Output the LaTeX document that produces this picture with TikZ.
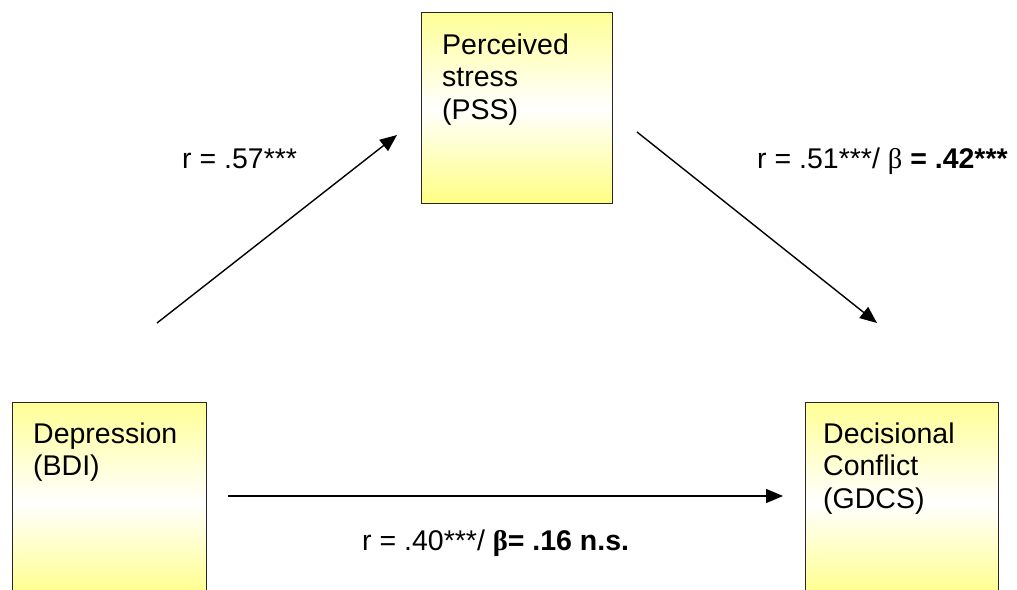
\documentclass[tikz,border=0pt]{standalone}
\usepackage{fontspec}
\setmainfont{Liberation Sans}
\newfontfamily\greekfont{Liberation Serif}
\usetikzlibrary{arrows.meta}
\definecolor{boxtop}{RGB}{255,255,150}
\definecolor{boxbot}{RGB}{255,255,130}
\begin{document}
\begin{tikzpicture}[x=1pt,y=-1pt,
  box/.style={draw=black!85, line width=1.2pt, top color=boxtop, bottom color=boxbot, middle color=white, inner sep=0pt, anchor=north west},
  boxtext/.style={font=\fontsize{28.5}{32.8}\selectfont, align=left, inner sep=0pt, anchor=base west},
  lbl/.style={font=\fontsize{28.5}{32.8}\selectfont, inner sep=0pt, anchor=base west},
  arr/.style={line width=1.4pt, -{Triangle[length=17pt,width=14pt]}}
]
\useasboundingbox (0,0) rectangle (1017,589);
\clip (0,0) rectangle (1017,589);
\fill[white] (0,0) rectangle (1017,589);

\node[box, minimum width=191pt, minimum height=191pt] (pss) at (421,12) {};
\node[box, minimum width=194pt, minimum height=200pt] (bdi) at (12,402) {};
\node[box, minimum width=193pt, minimum height=200pt] (gdcs) at (805,402) {};

% base anchor of a multi-line node is the baseline of its last line
\node[boxtext] (psst) at (442,119.6) {Perceived\\stress\\(PSS)};
\node[boxtext] (bdit) at (33,475.8) {Depression\\(BDI)};
\node[boxtext] (gdcst) at (823,508.6) {Decisional\\Conflict\\(GDCS)};

\coordinate (a1s) at (157,323);
\coordinate (a1e) at (397,135);
\coordinate (a2s) at (637,132);
\coordinate (a2e) at (877,323);
\coordinate (a3s) at (228,496);
\coordinate (a3e) at (783,496);

\draw[arr] (a1s) -- (a1e);
\draw[arr] (a2s) -- (a2e);
\draw[arr] (a3s) -- (a3e);

\node[lbl] (l1) at (182,168) {r = .57***};
\node[lbl] (l2) at (757,168) {r = .51***/ {\greekfont β} \textbf{= .42***}};
\node[lbl] (l3) at (362,550) {r = .40***/ \textbf{{\greekfont β}= .16 n.s.}};
\end{tikzpicture}
\end{document}
